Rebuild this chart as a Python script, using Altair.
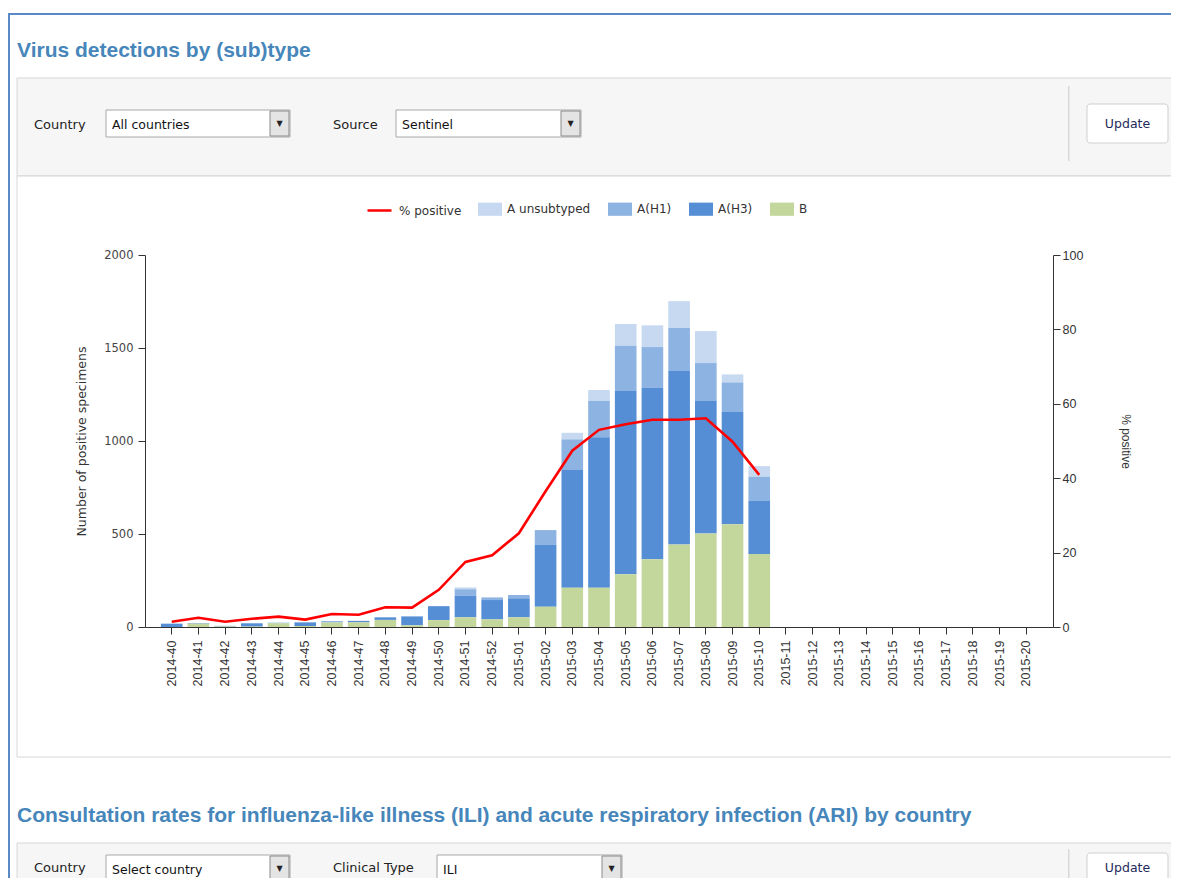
import altair as alt
import pandas as pd

# ---------------- data ----------------
weeks = [
    "2014-40", "2014-41", "2014-42", "2014-43", "2014-44", "2014-45", "2014-46",
    "2014-47", "2014-48", "2014-49", "2014-50", "2014-51", "2014-52",
    "2015-01", "2015-02", "2015-03", "2015-04", "2015-05", "2015-06", "2015-07",
    "2015-08", "2015-09", "2015-10", "2015-11", "2015-12", "2015-13", "2015-14",
    "2015-15", "2015-16", "2015-17", "2015-18", "2015-19", "2015-20",
]
# values exist for 2014-40 .. 2015-10 (first 23 weeks)
a_unsubtyped = [0, 0, 0, 0, 0, 0, 0, 0, 0, 0, 0, 10, 0, 0, 0, 35, 58, 117, 117, 145, 172, 43, 57]
a_h1 = [0, 0, 0, 0, 0, 0, 8, 0, 0, 0, 0, 35, 14, 18, 77, 165, 196, 240, 217, 231, 203, 159, 131]
a_h3 = [18, 3, 3, 18, 3, 20, 0, 8, 14, 48, 75, 116, 104, 102, 335, 633, 809, 989, 924, 932, 713, 603, 285]
b_values = [0, 18, 3, 2, 20, 5, 24, 25, 38, 9, 37, 52, 41, 52, 109, 211, 211, 283, 364, 444, 503, 553, 392]
pct_positive = [1.4, 2.5, 1.4, 2.2, 2.8, 2.0, 3.5, 3.3, 5.3, 5.2, 10.0, 17.5, 19.3, 25.2, 36.5,
                47.4, 53.0, 54.5, 55.7, 55.7, 56.1, 49.8, 40.9]

types = ["A unsubtyped", "A(H1)", "A(H3)", "B"]
type_colors = ["#c6d9f1", "#8db3e2", "#558ed5", "#c3d69b"]
stack_rank = {"B": 0, "A(H3)": 1, "A(H1)": 2, "A unsubtyped": 3}
series_by_type = {"A unsubtyped": a_unsubtyped, "A(H1)": a_h1, "A(H3)": a_h3, "B": b_values}

rows = []
for t in types:
    for w, v in zip(weeks, series_by_type[t]):
        rows.append({"week": w, "type": t, "count": v, "rank": stack_rank[t]})
bars_df = pd.DataFrame(rows)
line_df = pd.DataFrame({"week": weeks[:len(pct_positive)], "pct": pct_positive,
                        "series": "% positive"})

# ---------------- layout ----------------
W, H = 908, 372
OX, OY = 145, 255          # page position of the plot area origin
PAD = {"left": OX - 8, "top": OY - 8, "right": 118, "bottom": 251}

TXT = "DejaVu Sans"
dummy = alt.Data(values=[{"d": 0}])


def px(x):
    return x - OX


def py(y):
    return y - OY


def box(x1, y1, x2, y2, fill, stroke="", sw=1, cr=0):
    kw = dict(fill=fill, strokeWidth=sw)
    if stroke:
        kw["stroke"] = stroke
    if cr:
        kw["cornerRadius"] = cr
    return alt.Chart(dummy).mark_rect(**kw).encode(
        x=alt.value(px(x1)), x2=alt.value(px(x2)),
        y=alt.value(py(y1)), y2=alt.value(py(y2)))


def label(x, y, s, size=13, color="#222", weight="normal", font=TXT, align="left",
          baseline="middle"):
    return alt.Chart(dummy).mark_text(
        text=s, font=font, fontSize=size, color=color, fontWeight=weight,
        align=align, baseline=baseline).encode(x=alt.value(px(x)), y=alt.value(py(y)))


def dropdown(x1, x2, y1, y2, s):
    return [
        box(x1, y1, x2, y2, "#ffffff", "#a8a8a8"),
        box(x2 - 20, y1 + 1, x2 - 1, y2 - 1, "#e4e4e4", "#8a8a8a"),
        label(x2 - 10.5, (y1 + y2) / 2 + 0.5, "▼", size=8, color="#222", align="center"),
        label(x1 + 6, (y1 + y2) / 2 + 1, s, size=12.5, color="#111"),
    ]


BLUE_TITLE = "#4686ba"
PANEL = "#f6f6f6"
BORDER = "#d6d6d6"

background = [
    box(8, 13, 1200, 15, "#5a8ac6"),
    box(8, 13, 10, 900, "#5a8ac6"),
    box(17, 78, 1200, 176, PANEL, BORDER),
    box(17, 176, 1200, 757, "#ffffff", BORDER),
    box(17, 843, 1200, 900, PANEL, BORDER),
    box(1068, 86, 1069.5, 161, "#d8d8d8"),
    box(1068, 849, 1069.5, 900, "#d8d8d8"),
    box(1087, 104, 1168, 143, "#ffffff", "#cfcfcf", cr=3),
    box(1087, 853, 1168, 890, "#ffffff", "#cfcfcf", cr=3),
]
foreground = [
    label(17, 57, "Virus detections by (sub)type", size=21, color=BLUE_TITLE,
          weight="bold", font="Liberation Sans", baseline="alphabetic"),
    label(17, 822, "Consultation rates for influenza-like illness (ILI) and acute "
          "respiratory infection (ARI) by country", size=21, color=BLUE_TITLE,
          weight="bold", font="Liberation Sans", baseline="alphabetic"),
    label(34, 125, "Country"),
    label(333, 125, "Source"),
    label(1127.5, 124, "Update", size=12.5, color="#1f2a5a", align="center"),
    label(34, 868, "Country"),
    label(333, 868, "Clinical Type"),
    label(1127.5, 868, "Update", size=12.5, color="#1f2a5a", align="center"),
]
foreground += dropdown(106, 290, 110, 137, "All countries")
foreground += dropdown(396, 581, 110, 137, "Sentinel")
foreground += dropdown(106, 290, 855, 882, "Select country")
foreground += dropdown(437, 622, 855, 882, "ILI")

# ---------------- chart ----------------
x_enc = alt.X(
    "week:N",
    sort=weeks,
    scale=alt.Scale(domain=weeks, paddingInner=0.19, paddingOuter=0.595),
    axis=alt.Axis(title=None, labelAngle=270, labelFont="Liberation Sans",
                  labelFontSize=12.5, labelColor="#333", tickSize=7, labelPadding=6,
                  domainColor="#333", tickColor="#333", grid=False, zindex=1),
)

bars = alt.Chart(bars_df).mark_bar().encode(
    x=x_enc,
    y=alt.Y("count:Q", stack="zero",
            scale=alt.Scale(domain=[0, 2000], nice=False),
            axis=alt.Axis(orient="left", values=[0, 500, 1000, 1500, 2000], format="d",
                          title="Number of positive specimens", titleFont=TXT,
                          titleFontSize=12.5, titleFontWeight="normal", titleColor="#333",
                          titleAngle=270, titleX=-64, titleY=186, titleAlign="center",
                          titleBaseline="middle",
                          labelFont=TXT, labelFontSize=11.5, labelColor="#444",
                          tickSize=7, labelPadding=5, domainColor="#333",
                          tickColor="#333", grid=False, zindex=1)),
    fill=alt.Fill("type:N",
                  scale=alt.Scale(domain=types, range=type_colors),
                  legend=alt.Legend(orient="none", legendX=333, legendY=-58,
                                    direction="horizontal", title=None,
                                    symbolType="M-1,-0.55L1,-0.55L1,0.55L-1,0.55Z",
                                    symbolSize=576, symbolStrokeWidth=0,
                                    labelFont=TXT, labelFontSize=12, labelColor="#333",
                                    labelOffset=5, columnPadding=17, padding=0,
                                    zindex=1)),
    order=alt.Order("rank:Q", sort="ascending"),
)

line = alt.Chart(line_df).mark_line(strokeWidth=2.6).encode(
    x=x_enc,
    y=alt.Y("pct:Q",
            scale=alt.Scale(domain=[0, 100], nice=False),
            axis=alt.Axis(orient="right", values=[0, 20, 40, 60, 80, 100], format="d",
                          title="% positive", titleFont="Liberation Sans",
                          titleFontSize=12, titleFontWeight="normal", titleColor="#333",
                          titleAngle=90, titleX=72, titleY=186, titleAlign="center",
                          titleBaseline="middle",
                          labelFont="Liberation Sans", labelFontSize=12.5,
                          labelColor="#333", tickSize=7, labelPadding=2,
                          domainColor="#333", tickColor="#333", grid=False, zindex=1)),
    stroke=alt.Stroke("series:N",
                      scale=alt.Scale(domain=["% positive"], range=["#ff0000"]),
                      legend=alt.Legend(orient="none", legendX=221, legendY=-58,
                                        title=None, symbolType="stroke",
                                        symbolSize=576, symbolStrokeWidth=2.5,
                                        labelFont=TXT, labelFontSize=12,
                                        labelColor="#333", labelOffset=6, padding=0,
                                        zindex=1)),
)

chart = alt.layer(*background, bars, line, *foreground).resolve_scale(
    y="independent"
).properties(
    width=W, height=H,
    padding=PAD,
    autosize=alt.AutoSizeParams(type="none"),
    background="#ffffff",
).configure_view(stroke=None)

chart.save("out.html", embed_options={"renderer": "svg", "actions": False})
